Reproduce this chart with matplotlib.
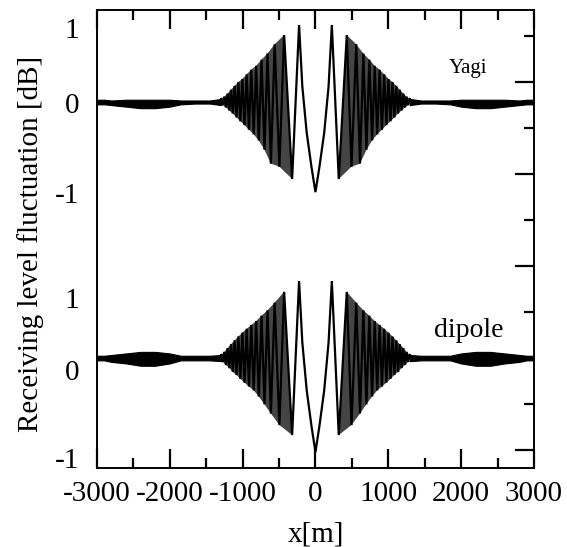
import numpy as np
import matplotlib.pyplot as plt

plt.rcParams['font.family'] = ['Liberation Serif', 'DejaVu Serif']
plt.rcParams['axes.unicode_minus'] = False

# turning points of the ripple, right half (the plot is mirrored for x < 0)
turn_x = [0, 55, 120, 180, 225, 320, 430, 495, 560, 612, 658, 700, 740, 778,
          814, 848, 881, 913, 944, 974, 1003, 1031, 1058, 1084, 1110, 1135,
          1159, 1183, 1206, 1229, 1251, 1273, 1295]
yagi_turn = [-1.17, -0.84, -0.40, 0.20, 1.0, -1.0, 0.87, -0.84, 0.75, -0.80,
             0.63, -0.62, 0.55, -0.50, 0.47, -0.42, 0.42, -0.36, 0.36, -0.30,
             0.30, -0.25, 0.26, -0.20, 0.21, -0.15, 0.16, -0.11, 0.11, -0.07,
             0.07, -0.04, 0.04]
dipole_turn = [-1.22, -0.88, -0.42, 0.20, 1.0, -1.0, 0.86, -0.87, 0.72, -0.72,
               0.62, -0.60, 0.55, -0.50, 0.48, -0.42, 0.43, -0.37, 0.38, -0.32,
               0.33, -0.27, 0.28, -0.22, 0.23, -0.18, 0.18, -0.13, 0.13, -0.09,
               0.08, -0.05, 0.04]
dense_from = 5  # from this turning point outwards the ripple is a dark band

# outer region: only a thin band is visible, keep its upper / lower edge
far_x = [1295, 1450, 1650, 1850, 2000, 2200, 2400, 2600, 2800, 2900, 3000]
yagi_far_hi = [0.04, 0.02, 0.02, 0.02, 0.03, 0.03, 0.03, 0.03, 0.02, 0.03, 0.03]
yagi_far_lo = [-0.04, -0.02, -0.02, -0.03, -0.06, -0.08, -0.08, -0.06, -0.04, -0.03, -0.03]
dip_far_hi = [0.04, 0.03, 0.03, 0.03, 0.06, 0.08, 0.08, 0.06, 0.04, 0.03, 0.03]
dip_far_lo = [-0.04, -0.03, -0.03, -0.03, -0.07, -0.10, -0.10, -0.07, -0.05, -0.03, -0.03]

yagi_shift = 0.0
dipole_shift = -3.325
left_ticks = [0.961, -0.013, -1.18, -2.545, -3.48, -4.62]
left_labels = ['1', '0', '-1', '1', '0', '-1']
right_step = 1.195


def mirror(xr, yr):
    xr = np.asarray(xr, float)
    yr = np.asarray(yr, float)
    return np.concatenate([-xr[::-1][:-1], xr]), np.concatenate([yr[::-1][:-1], yr])


fig = plt.figure(figsize=(5.67, 5.47), dpi=100)
ax = fig.add_axes([0.171, 0.1444, 0.7707, 0.8373])

for turn, hi, lo, shift in [(yagi_turn, yagi_far_hi, yagi_far_lo, yagi_shift),
                            (dipole_turn, dip_far_hi, dip_far_lo, dipole_shift)]:
    tx = np.asarray(turn_x[dense_from:], float)
    ty = np.asarray(turn[dense_from:], float)
    up = ty >= 0
    for sgn in (1, -1):
        px = np.concatenate([tx[up], tx[~up][::-1]]) * sgn
        py = np.concatenate([ty[up], ty[~up][::-1]]) + shift
        ax.fill(px, py, color='0.27', lw=0)
        fx = sgn * np.asarray(far_x, float)
        ax.fill_between(fx, np.asarray(lo) + shift, np.asarray(hi) + shift,
                        color='black', lw=0.8)
    x, y = mirror(turn_x, turn)
    ax.plot(x, y + shift, color='black', lw=1.6, solid_joinstyle='miter')

ax.set_xlim(-3000, 3000)
ax.set_ylim(-4.753, 1.195)

ax.set_xticks(np.arange(-3000, 3001, 1000))
ax.set_xticks(np.arange(-2500, 3000, 1000), minor=True)
ax.set_yticks(left_ticks)
ax.set_yticklabels(left_labels)
ax.tick_params(axis='x', which='both', direction='in', top=True, width=1.6,
               labelsize=21, pad=9)
ax.tick_params(axis='x', which='major', length=14)
ax.tick_params(axis='x', which='minor', length=7)
ax.tick_params(axis='y', length=0, labelsize=21, pad=13)

ax2 = ax.twinx()
ax2.set_ylim(ax.get_ylim())
ax2.set_yticks([dipole_shift + k * right_step for k in range(-1, 4)])
ax2.set_yticks([dipole_shift + (k + 0.5) * right_step for k in range(-1, 4)], minor=True)
ax2.tick_params(axis='y', which='both', direction='in', width=1.6, labelright=False)
ax2.tick_params(axis='y', which='major', length=14)
ax2.tick_params(axis='y', which='minor', length=7)

for a in (ax, ax2):
    for sp in a.spines.values():
        sp.set_linewidth(1.2)

ax.set_xlabel('x[m]', fontsize=21)
ax.xaxis.set_label_coords(0.5, -0.117)
ax.set_ylabel('Receiving level fluctuation [dB]', fontsize=21)
ax.yaxis.set_label_coords(-0.121, 0.49)

ax.text(0.849, 0.873, 'Yagi', transform=ax.transAxes, fontsize=15,
        ha='center', va='center')
ax.text(0.851, 0.301, 'dipole', transform=ax.transAxes, fontsize=20,
        ha='center', va='center')

fig.savefig('out.png', dpi=100)
